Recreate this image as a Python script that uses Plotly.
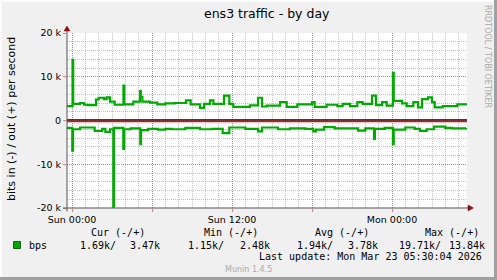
import plotly.graph_objects as go

# ---------------- data (hours since Sun 00:00, values in kbit/s) ----------------
out_hours = [-0.375, 0.04, 0.09, 0.6, 0.9, 1.2, 1.8, 2.0, 2.4, 2.6, 2.85, 3.2, 3.86, 3.92,
             4.6, 5.1, 5.16, 5.28, 5.85, 6.4, 7.0, 7.7, 8.55, 8.9, 9.6, 9.9, 10.35, 10.6,
             11.4, 11.8, 12.1, 13.35, 13.95, 14.25, 14.6, 15.6, 16.1, 16.9, 18.0, 18.2,
             19.1, 19.9, 20.3, 20.85, 21.4, 21.8, 22.5, 22.8, 23.25, 23.6, 24.07, 24.13,
             24.75, 25.1, 25.6, 25.95, 26.25, 26.7, 27.0, 27.2, 27.8, 28.9, 29.55]
out_kbps = [3.3, 13.84, 3.8, 4.0, 3.6, 3.5, 4.8, 5.2, 4.9, 5.3, 4.3, 3.6, 8.0, 3.7,
            4.3, 6.7, 5.4, 4.3, 4.1, 3.7, 3.9, 4.0, 4.6, 3.7, 2.9, 3.8, 4.6, 3.8,
            5.7, 3.8, 3.1, 3.45, 5.2, 3.2, 3.4, 4.2, 3.1, 3.7, 4.2, 3.1,
            3.6, 3.3, 3.8, 3.3, 4.2, 3.8, 5.7, 3.5, 4.2, 3.4, 10.9, 4.5,
            3.9, 3.3, 4.2, 3.0, 4.9, 5.3, 4.2, 3.0, 3.3, 3.7, 3.47]

in_hours = [-0.375, 0.02, 0.08, 0.6, 0.97, 1.7, 2.25, 2.5, 2.85, 3.1, 3.14, 3.6, 3.85, 3.91,
            4.4, 5.12, 5.18, 5.7, 6.45, 7.0, 7.5, 8.5, 9.6, 10.5, 11.3, 11.8, 13.0, 13.95,
            14.25, 15.45, 16.35, 17.5, 18.1, 18.3, 18.9, 19.7, 21.45, 22.0, 22.65, 22.72,
            23.45, 24.07, 24.13, 25.0, 25.7, 26.1, 26.6, 27.15, 28.0, 28.5, 29.55]
in_kbps = [1.7, 6.9, 2.0, 1.6, 1.6, 2.4, 1.9, 2.6, 2.0, 19.71, 1.7, 1.7, 6.5, 2.0,
           1.8, 5.4, 2.2, 1.9, 2.1, 1.9, 2.0, 1.7, 2.0, 1.9, 2.9, 1.6, 1.9, 2.5,
           1.6, 2.0, 1.8, 1.9, 2.5, 2.1, 1.5, 1.8, 2.3, 1.8, 4.2, 1.9,
           1.7, 5.4, 2.1, 1.6, 1.9, 2.4, 2.0, 1.4, 1.7, 1.8, 1.69]

x_tick_vals = [0, 6, 12, 18, 24]
x_tick_text = ["Sun 00:00", "", "Sun 12:00", "", "Mon 00:00"]
y_tick_vals = [-20000, -10000, 0, 10000, 20000]
y_tick_text = ["-20 k", "-10 k", "0", "10 k", "20 k"]

legend_headers = ["Cur (-/+)", "Min (-/+)", "Avg (-/+)", "Max (-/+)"]
stat_in = ["1.69k/", "1.15k/", "1.94k/", "19.71k/"]
stat_out = ["3.47k", "2.48k", "3.78k", "13.84k"]

title = "ens3 traffic - by day"
y_title = "bits in (-) / out (+) per second"
last_update = "Last update: Mon Mar 23 05:30:04 2026"

# ---------------- geometry helpers ----------------
W, H = 497, 280
L, R, T, B = 67, 467, 33, 208
def px(x):
    return (x - L) / (R - L)
def py(y):
    return (B - y) / (B - T)
VPP = 40000 / (B - T)  # value per pixel on y

GREEN = "#00aa00"
MONO = "DejaVu Sans Mono"
SANS = "DejaVu Sans"

fig = go.Figure()
fig.add_trace(go.Scatter(x=out_hours, y=[v * 1000 for v in out_kbps], mode="lines",
                         line=dict(color=GREEN, width=2.2, shape="hv"), hoverinfo="skip"))
fig.add_trace(go.Scatter(x=in_hours, y=[-v * 1000 for v in in_kbps], mode="lines",
                         line=dict(color=GREEN, width=2.2, shape="hv"), hoverinfo="skip"))

major_grid = "rgba(255,0,0,0.35)"
minor_grid = "rgba(143,143,143,0.55)"

fig.update_layout(
    width=W, height=H, autosize=False,
    margin=dict(l=L, r=W - R, t=T, b=H - B, pad=0),
    paper_bgcolor="#f0f0f0", plot_bgcolor="#ffffff",
    showlegend=False,
    font=dict(family=SANS, color="#000000"),
    xaxis=dict(range=[-0.375, 29.625], tickvals=x_tick_vals, ticktext=x_tick_text,
               showgrid=True, gridcolor=major_grid, griddash="1px,1px", gridwidth=1,
               ticks="outside", ticklen=3, tickcolor="rgba(255,0,0,0.5)",
               tickfont=dict(size=9.5, family=SANS, color="#000"),
               minor=dict(dtick=1, tick0=0, showgrid=True, gridcolor=minor_grid,
                          griddash="1px,1px", ticks=""),
               zeroline=False, showline=False, fixedrange=True),
    yaxis=dict(range=[-20000, 20000], tickvals=y_tick_vals, ticktext=y_tick_text,
               showgrid=True, gridcolor=major_grid, griddash="1px,1px", gridwidth=1,
               ticks="outside", ticklen=3, tickcolor="rgba(255,0,0,0.5)",
               tickfont=dict(size=9.5, family=SANS, color="#000"),
               minor=dict(dtick=2000, tick0=0, showgrid=True, gridcolor=minor_grid,
                          griddash="1px,1px", ticks=""),
               zeroline=False, showline=False, fixedrange=True),
)

shapes = []
# frame of image
shapes.append(dict(type="line", xref="paper", yref="paper", x0=px(0), x1=px(W), y0=py(1), y1=py(1),
                   line=dict(color="#fbfbfb", width=2)))
shapes.append(dict(type="line", xref="paper", yref="paper", x0=px(1), x1=px(1), y0=py(0), y1=py(H),
                   line=dict(color="#fbfbfb", width=2)))
shapes.append(dict(type="line", xref="paper", yref="paper", x0=px(W - 1.5), x1=px(W - 1.5), y0=py(0), y1=py(H),
                   line=dict(color="#a0a0a0", width=3)))
shapes.append(dict(type="line", xref="paper", yref="paper", x0=px(0), x1=px(W), y0=py(H - 1.5), y1=py(H - 1.5),
                   line=dict(color="#a0a0a0", width=3)))
# zero rule: black + red
shapes.append(dict(type="line", xref="paper", yref="y", x0=0, x1=1, y0=-0.9 * VPP, y1=-0.9 * VPP,
                   line=dict(color="#ff0000", width=1.6)))
shapes.append(dict(type="line", xref="paper", yref="y", x0=0, x1=1, y0=0.6 * VPP, y1=0.6 * VPP,
                   line=dict(color="#000000", width=1.2)))
# axes
shapes.append(dict(type="line", xref="paper", yref="paper", x0=px(L), x1=px(L), y0=py(211.5), y1=py(30),
                   line=dict(color="#555555", width=1)))
shapes.append(dict(type="line", xref="paper", yref="paper", x0=px(63), x1=px(469), y0=py(B), y1=py(B),
                   line=dict(color="#555555", width=1)))
# arrows
shapes.append(dict(type="path", xref="paper", yref="paper",
                   path=f"M {px(64)} {py(31)} L {px(70)} {py(31)} L {px(67)} {py(26)} Z",
                   fillcolor="#8b1010", line=dict(color="#8b1010", width=0.5)))
shapes.append(dict(type="path", xref="paper", yref="paper",
                   path=f"M {px(468)} {py(205)} L {px(468)} {py(211)} L {px(473.5)} {py(208)} Z",
                   fillcolor="#8b1010", line=dict(color="#8b1010", width=0.5)))
# legend swatch
shapes.append(dict(type="rect", xref="paper", yref="paper", x0=px(13.5), x1=px(20.5), y0=py(248.5), y1=py(241.5),
                   fillcolor=GREEN, line=dict(color="#004400", width=0.8)))
fig.update_layout(shapes=shapes)

ann = []
def text(t, x, y, size, family=SANS, color="#000", xanchor="left", angle=0):
    ann.append(dict(text=t, x=px(x), y=py(y), xref="paper", yref="paper", showarrow=False,
                    xanchor=xanchor, yanchor="middle", textangle=angle,
                    font=dict(size=size, family=family, color=color)))

text(title, 267, 13.3, 12.5, xanchor="center")
text(y_title, 11, 119, 11, xanchor="center", angle=-90)
text("RRDTOOL / TOBI OETIKER", 487.5, 56.5, 8, color="#aaaaaa", xanchor="center", angle=90)

header_x = [89, 202, 313, 423]
in_x = [78, 186, 295, 397]
out_x = [128, 238, 346, 447]
for i in range(4):
    text(legend_headers[i], header_x[i], 232.3, 10, family=MONO)
    text(stat_in[i], in_x[i], 245, 10, family=MONO)
    text(stat_out[i], out_x[i], 245, 10, family=MONO)
text("bps", 27, 245, 10, family=MONO)
text(last_update, 483.5, 256.7, 10, family=MONO, xanchor="right")
text("Munin 1.4.5", 248.5, 269, 8, color="#aaaaaa", xanchor="center")

fig.update_layout(annotations=ann)
fig.write_html("out.html")
